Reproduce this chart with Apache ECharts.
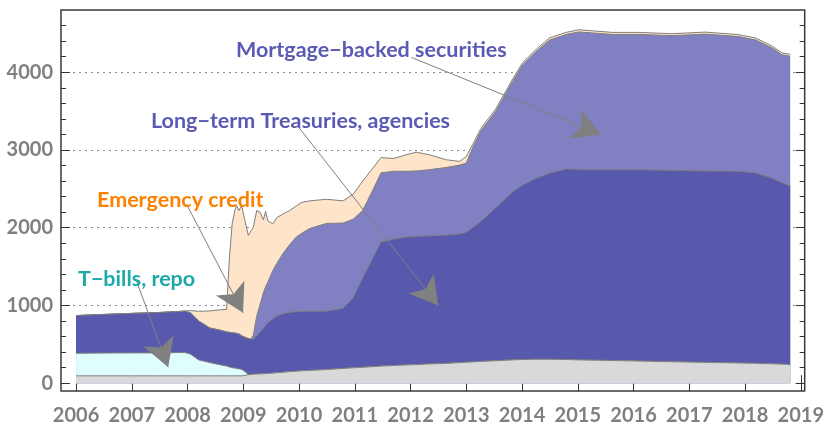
<!DOCTYPE html>
<html><head><meta charset="utf-8">
<script src="https://cdn.jsdelivr.net/npm/echarts@6/dist/echarts.min.js"></script>
<style>html,body{margin:0;padding:0;background:#fff}#c{width:827px;height:426px}</style>
</head><body><div id="c"></div>
<script>
// ---- data (years as decimals, values in $ billions) ----
var years = [2006.0,2006.5,2007.0,2007.5,2007.95,2008.05,2008.2,2008.4,2008.6,2008.7,2008.75,2008.8,2008.85,2008.88,2008.92,2008.97,2009.03,2009.09,2009.14,2009.18,2009.24,2009.3,2009.36,2009.4,2009.44,2009.53,2009.6,2009.71,2009.83,2009.95,2010.04,2010.19,2010.49,2010.79,2010.97,2011.14,2011.3,2011.47,2011.7,2011.92,2012.1,2012.34,2012.64,2012.88,2013.0,2013.11,2013.26,2013.53,2013.83,2014.01,2014.25,2014.49,2014.79,2015.02,2015.62,2016.1,2016.69,2017.29,2017.89,2018.19,2018.49,2018.66,2018.81];
var otherAssets = [95,95,95,95,95,95,95,95,95,95,95,95,95,95,95,95,100,110,112,115,118,120,122,124,125,130,135,140,150,155,160,165,175,190,198,205,212,220,228,235,240,248,255,265,270,274,280,290,300,305,308,308,305,300,292,285,276,268,260,256,250,245,241];
var tbillsRepo = [290,293,295,295,300,280,205,170,140,125,115,105,100,95,90,83,50,0,0,0,0,0,0,0,0,0,0,0,0,0,0,0,0,0,0,0,0,0,0,0,0,0,0,0,0,0,0,0,0,0,0,0,0,0,0,0,0,0,0,0,0,0,0];
var longTerm = [485,497,508,520,532,530,500,445,445,440,445,450,450,450,450,432,440,465,455,452,492,535,588,621,653,700,730,755,762,765,765,762,752,775,902,1150,1366,1596,1627,1645,1650,1647,1650,1655,1673,1726,1800,1970,2160,2245,2327,2392,2451,2450,2453,2462,2462,2462,2466,2449,2385,2335,2294];
var mbs = [0,0,0,0,0,0,0,0,0,0,0,0,0,0,0,0,0,0,0,53,250,355,450,495,522,620,675,772,868,960,1000,1063,1128,1095,1010,865,872,889,871,846,840,852,870,885,888,1022,1165,1240,1420,1545,1630,1712,1729,1768,1741,1739,1732,1760,1732,1710,1675,1646,1670];
var emergency = [0,0,0,0,0,30,125,220,265,290,945,1400,1585,1645,1585,1675,1500,1325,1393,1386,1360,1190,940,970,790,600,590,508,440,400,399,355,311,285,319,378,295,197,164,212,241,191,99,47,85,42,31,30,31,28,27,28,27,28,26,26,25,26,25,25,24,24,24];

var xTickYears = [2006,2007,2008,2009,2010,2011,2012,2013,2014,2015,2016,2017,2018,2019];
var yMajorTicks = [0,1000,2000,3000,4000];
var yMinorTicks = [200,400,600,800,1200,1400,1600,1800,2200,2400,2600,2800,3200,3400,3600,3800,4200,4400,4600];
var yGridLines = [1000,2000,3000,4000];

// annotation labels and arrows ([fromYear, fromValue, toYear, toValue])
var labelTexts = ['Mortgage\u2212backed securities','Long\u2212term Treasuries, agencies','Emergency credit','T\u2212bills, repo'];
var arrows = [
  [2012.016,4190,2015.413,3200],
  [2009.980,3305,2012.500,999],
  [2007.982,2302,2008.996,905],
  [2007.087,1308,2007.653,207]
];

// ---- build: cumulative layers drawn back-to-front ----
var layers = [
  {data:otherAssets, color:'#d9d9d9'},
  {data:tbillsRepo, color:'#e0fdfd'},
  {data:longTerm, color:'#5858ad'},
  {data:mbs, color:'#8080c2'},
  {data:emergency, color:'#fee4c9'}
];
var running = years.map(function(){ return 0; });
var cumul = layers.map(function(l){
  running = running.map(function(v,i){ return v + l.data[i]; });
  return running.slice();
});
var series = [];
for (var k = layers.length - 1; k >= 0; k--) {
  series.push({type:'line', data:years.map(function(y,i){ return [y, cumul[k][i]]; }),
    symbol:'none', silent:true, z:2 + (layers.length - k),
    lineStyle:{width:1, color:'#7f7f7f'},
    areaStyle:{color:layers[k].color, opacity:1, origin:0}});
}
series.push({type:'line', data:[], z:20, silent:true,
  markLine:{silent:true, z:30, symbol:['none','arrow'], symbolSize:[24,28],
    lineStyle:{color:'#808080', width:1, type:'solid'}, label:{show:false},
    emphasis:{disabled:true},
    data: arrows.map(function(a){ return [{coord:[a[0],a[1]]},{coord:[a[2],a[3]], itemStyle:{color:'#808080'}}]; })
  }
});

var FONT = 'Lato, "Open Sans", sans-serif';
var labelStyle = {fontFamily:FONT, fontWeight:'bold', fontSize:20, color:'#808080'};
function yAx(pos, ticks, len, labels, grid){
  return {type:'value', min:-100, max:4800, position:pos,
    axisLine:{show:false},
    axisTick:{show:!grid, inside:true, length:len, customValues:ticks, lineStyle:{color:'#333', width:1}},
    axisLabel:labels ? Object.assign({show:true, margin:8, customValues:ticks, formatter:function(v){return String(v);}}, labelStyle) : {show:false},
    splitLine: grid ? {show:true, lineStyle:{color:'#8c8c8c', type:[2,4], width:1}} : {show:false},
    splitArea:{show:false}
  };
}
function xAx(pos, labels){
  return {type:'value', min:2005.73, max:2019.07, position:pos,
    axisLine:{show:false},
    axisTick:{show:true, inside:true, length:8, customValues:xTickYears, lineStyle:{color:'#333', width:1}},
    axisLabel:labels ? Object.assign({show:true, margin:15, customValues:xTickYears, formatter:function(v){return String(v);}}, labelStyle) : {show:false},
    splitLine:{show:false}, splitArea:{show:false}
  };
}

var chart = echarts.init(document.getElementById('c'), null, {renderer:'canvas'});
chart.setOption({
  animation:false,
  backgroundColor:'#ffffff',
  grid:{left:61, top:10, right:21, bottom:30, show:true, borderColor:'#3a3a3a', borderWidth:1.5, backgroundColor:'transparent'},
  xAxis:[xAx('bottom', true), xAx('top', false)],
  yAxis:[yAx('left', yMajorTicks, 9, true, false), yAx('left', yMinorTicks, 5, false, false),
         yAx('right', yMajorTicks, 9, false, false), yAx('right', yMinorTicks, 5, false, false),
         yAx('left', yGridLines, 0, false, true)],
  series: series,
  graphic:[
    {type:'text', z:40, style:{text:labelTexts[0], x:236, y:50, verticalAlign:'middle', font:'bold 21.5px '+FONT, fill:'#5a5ab4'}},
    {type:'text', z:40, style:{text:labelTexts[1], x:151, y:121, verticalAlign:'middle', font:'bold 21.5px '+FONT, fill:'#5a5ab4'}},
    {type:'text', z:40, style:{text:labelTexts[2], x:97, y:200, verticalAlign:'middle', font:'bold 21.5px '+FONT, fill:'#ff8000'}},
    {type:'text', z:40, style:{text:labelTexts[3], x:78, y:279, verticalAlign:'middle', font:'bold 21.5px '+FONT, fill:'#1ea9a9'}}
  ]
});
</script>
</body></html>
